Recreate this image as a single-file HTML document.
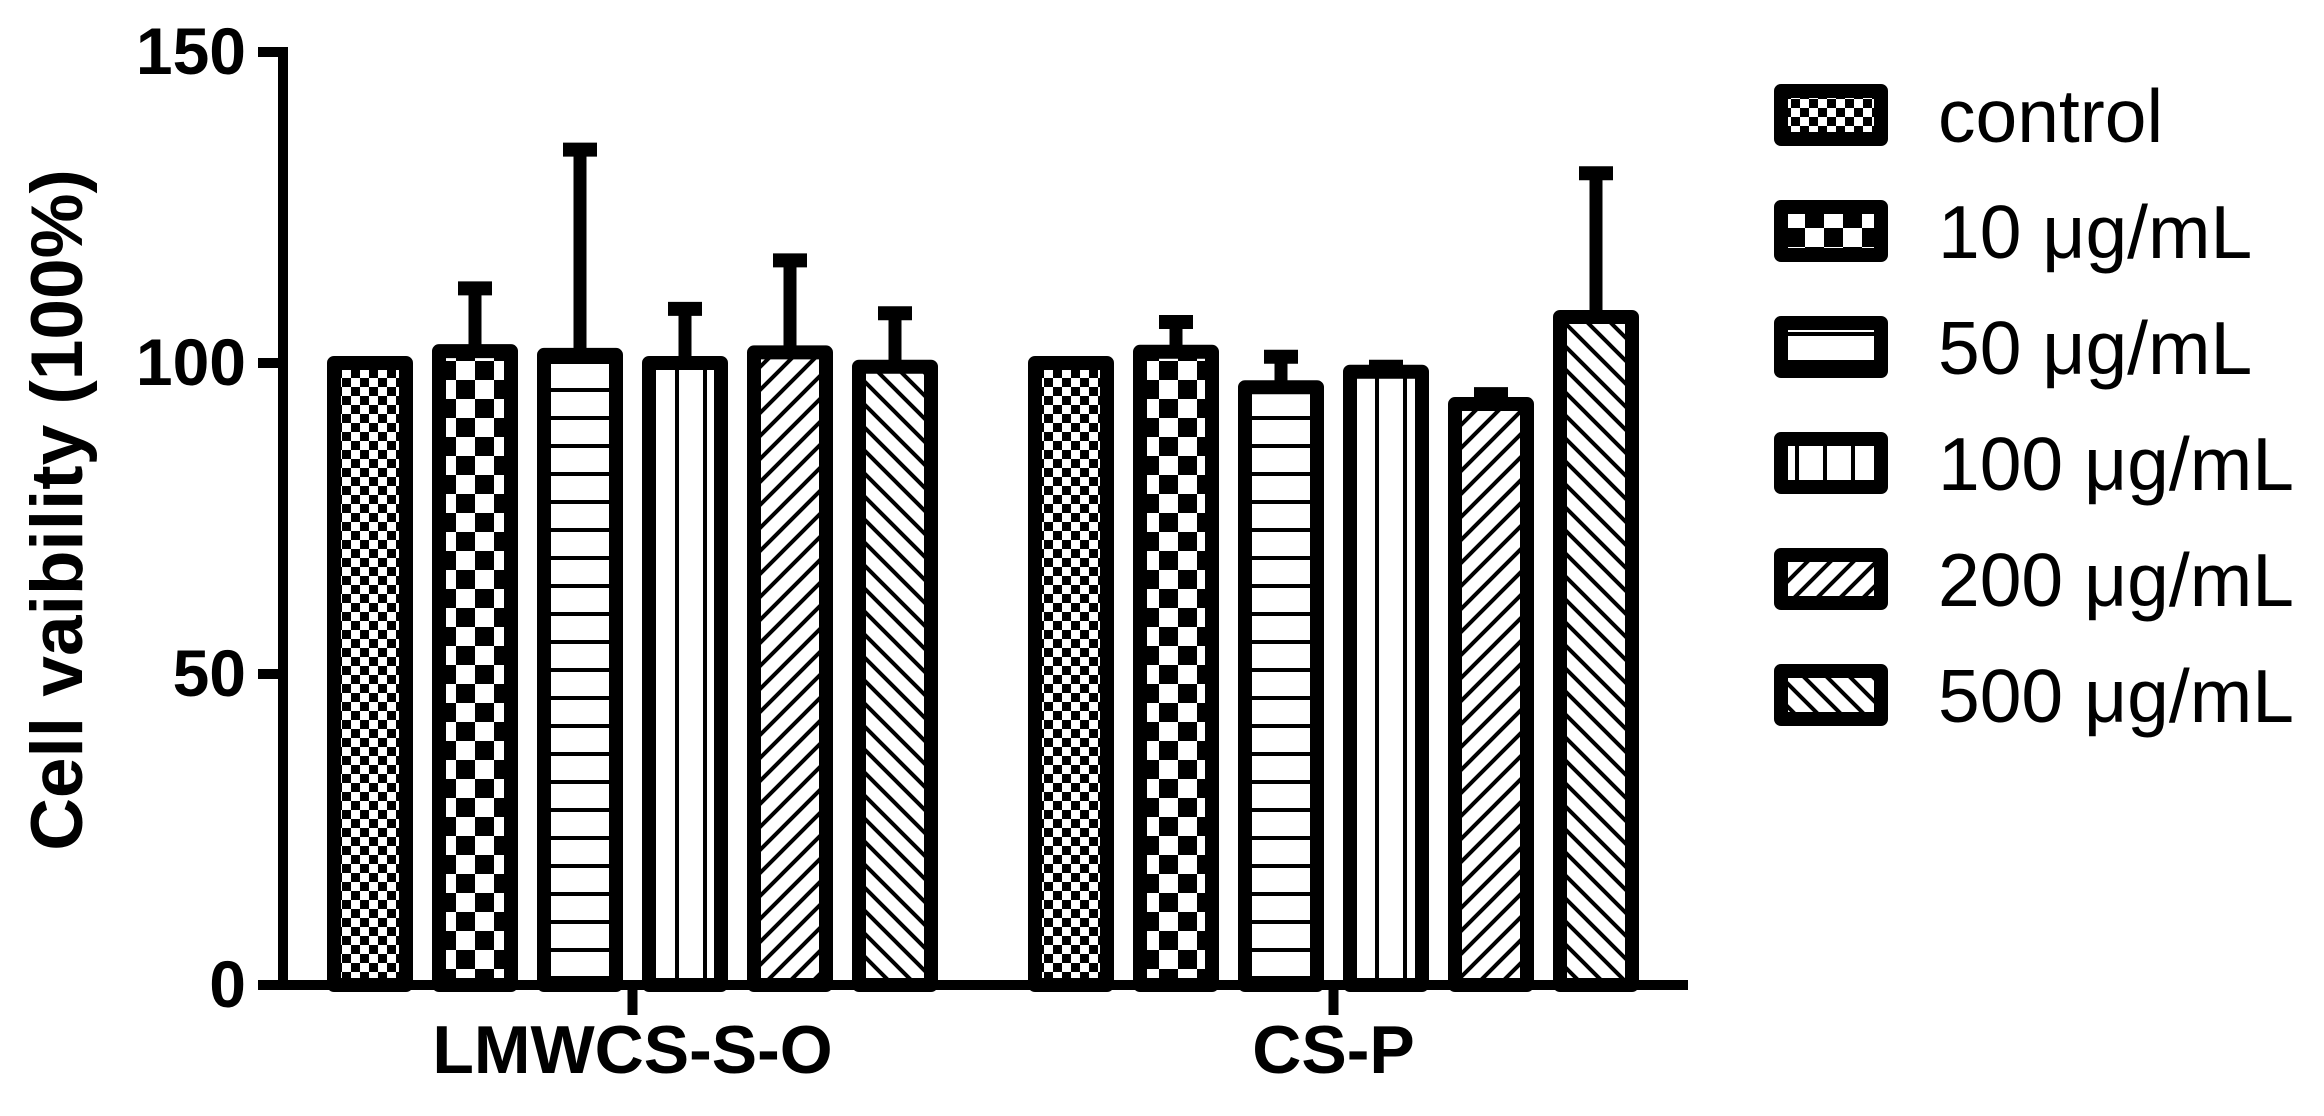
<!DOCTYPE html>
<html><head><meta charset="utf-8"><style>html,body{margin:0;padding:0;background:#fff}svg{display:block}</style></head>
<body>
<svg id="chart" xmlns="http://www.w3.org/2000/svg" width="2324" height="1116" viewBox="0 0 2324 1116" font-family="'Liberation Sans', Arial, sans-serif">
<defs>
<pattern id="p0" patternUnits="userSpaceOnUse" width="18" height="18"><rect width="18" height="18" fill="#fff"/><rect width="9" height="9" fill="#000"/><rect x="9" y="9" width="9" height="9" fill="#000"/></pattern>
<pattern id="p1" patternUnits="userSpaceOnUse" width="38" height="38"><rect width="38" height="38" fill="#fff"/><rect width="19" height="19" fill="#000"/><rect x="19" y="19" width="19" height="19" fill="#000"/></pattern>
<pattern id="p2" patternUnits="userSpaceOnUse" width="28" height="28"><rect width="28" height="28" fill="#fff"/><rect y="24" width="28" height="4" fill="#000"/></pattern>
<pattern id="p3" patternUnits="userSpaceOnUse" width="28" height="28" x="3"><rect width="28" height="28" fill="#fff"/><rect x="0" width="4" height="28" fill="#000"/></pattern>
<pattern id="p4" patternUnits="userSpaceOnUse" width="23" height="23"><rect width="23" height="23" fill="#fff"/><path d="M-3,26 L26,-3 M-3,3 L3,-3 M20,26 L26,20" stroke="#000" stroke-width="4"/></pattern>
<pattern id="p5" patternUnits="userSpaceOnUse" width="23" height="23"><rect width="23" height="23" fill="#fff"/><path d="M-3,-3 L26,26 M20,-3 L26,3 M-3,20 L3,26" stroke="#000" stroke-width="4"/></pattern>
</defs>
<g id="bars"></g>
<g id="axes"></g>
<g id="legend"></g>
<text transform="translate(82,510) rotate(-90)" text-anchor="middle" font-size="73" font-weight="bold">Cell vaibility (100%)</text>
<script>
const groups = ["LMWCS-S-O", "CS-P"];
const series = ["control", "10 μg/mL", "50 μg/mL", "100 μg/mL", "200 μg/mL", "500 μg/mL"];
const valuesLMWCS = [100, 101.9, 101.3, 100, 101.7, 99.4];
const valuesCSP = [100, 101.8, 96.1, 98.6, 93.4, 107.4];
const errTopLMWCS = [100, 112, 134.3, 108.7, 116.5, 108.0];
const errTopCSP = [100, 106.6, 101, 99.4, 95, 130.5];
const yTicks = [0, 50, 100, 150];

const NS = "http://www.w3.org/2000/svg";
const y0 = 985, yTop = 52, yMax = 150;
function yScale(v){ return y0 - (v / yMax) * (y0 - yTop); }
const groupCenters = [632.5, 1333.5];
const pitch = 105;
function xScale(g, s){ return groupCenters[g] + (s - 2.5) * pitch; }
function mk(tag, attrs, parent){ const e = document.createElementNS(NS, tag); for (const k in attrs) e.setAttribute(k, attrs[k]); parent.appendChild(e); return e; }

const barsG = document.getElementById('bars');
const allVals = [valuesLMWCS, valuesCSP];
const allErr = [errTopLMWCS, errTopCSP];
for (let g = 0; g < groups.length; g++) {
  for (let s = 0; s < series.length; s++) {
    const cx = xScale(g, s), v = allVals[g][s], e = allErr[g][s];
    if (e > v) {
      const eb = mk('line', {x1: cx, x2: cx, y1: yScale(v), y2: yScale(e), stroke: '#000', 'stroke-width': 13}, barsG);
      
      
      const cap = mk('line', {x1: cx - 17, x2: cx + 17, y1: yScale(e), y2: yScale(e), stroke: '#000', 'stroke-width': 14}, barsG);
      
      
    }
    const top = yScale(v);
    const r = mk('rect', {x: cx - 36, y: top, width: 72, height: y0 - top, fill: 'url(#p' + s + ')', stroke: '#000', 'stroke-width': 14, 'stroke-linejoin': 'round'}, barsG);
    
    
  }
}

const axG = document.getElementById('axes');
const ya = mk('line', {x1: 283, x2: 283, y1: yTop - 5, y2: y0 + 5, stroke: '#000', 'stroke-width': 10}, axG);


const xa = mk('line', {x1: 278, x2: 1688, y1: y0, y2: y0, stroke: '#000', 'stroke-width': 10}, axG);


for (const t of yTicks) {
  const y = yScale(t);
  const tk = mk('line', {x1: 258, x2: 288, y1: y, y2: y, stroke: '#000', 'stroke-width': 10}, axG);
  
  
  const lb = mk('text', {x: 246, y: y + 22, 'text-anchor': 'end', 'font-size': 66, 'font-weight': 'bold'}, axG);
  lb.textContent = t;
  
  
}
for (let g = 0; g < groups.length; g++) {
  const cx = groupCenters[g];
  const tk = mk('line', {x1: cx, x2: cx, y1: y0, y2: y0 + 30, stroke: '#000', 'stroke-width': 10}, axG);
  
  
  const lb = mk('text', {x: cx, y: 1073, 'text-anchor': 'middle', 'font-size': 68, 'font-weight': 'bold'}, axG);
  lb.textContent = groups[g];
  
  
}

const lgG = document.getElementById('legend');
for (let s = 0; s < series.length; s++) {
  const cy = 115 + s * 116;
  const box = mk('rect', {x: 1781, y: cy - 24, width: 100, height: 48, fill: 'url(#p' + s + ')', stroke: '#000', 'stroke-width': 14, 'stroke-linejoin': 'round'}, lgG);
  
  
  const tx = mk('text', {x: 1938, y: cy + 27, 'font-size': 75}, lgG);
  tx.textContent = series[s];
  
  
}
</script>
</svg>
</body></html>
